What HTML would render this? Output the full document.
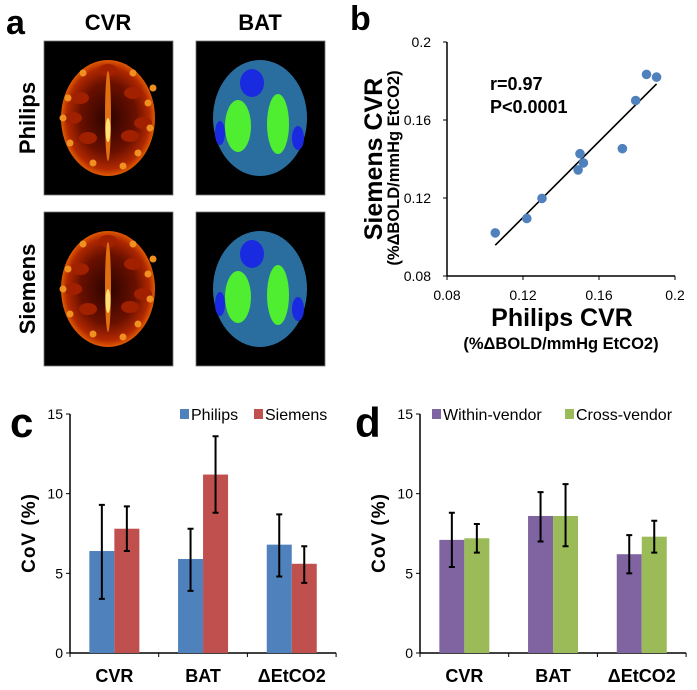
<!DOCTYPE html>
<html><head><meta charset="utf-8"><style>
body{margin:0;background:#fff}
svg{display:block;font-family:"Liberation Sans",Arial,sans-serif}
</style></head><body>
<svg id="fig" width="697" height="690" viewBox="0 0 697 690">
<defs>
<radialGradient id="cvrg" cx="50%" cy="50%" r="50%">
<stop offset="0" stop-color="#2a0300"/><stop offset="0.6" stop-color="#6a1000"/><stop offset="0.88" stop-color="#b02800"/><stop offset="1" stop-color="#e05a00"/>
</radialGradient>
</defs>
<g>
<text x="6" y="34" font-size="34" font-weight="bold">a</text>
<text x="108" y="30" font-size="22" font-weight="bold" text-anchor="middle">CVR</text>
<text x="260" y="30" font-size="22" font-weight="bold" text-anchor="middle">BAT</text>
<text transform="translate(35,118) rotate(-90)" font-size="22" font-weight="bold" text-anchor="middle">Philips</text>
<text transform="translate(35,289) rotate(-90)" font-size="22" font-weight="bold" text-anchor="middle">Siemens</text>
<g id="brains"></g>
</g>
<g id="pb">
<text x="350" y="30" font-size="34" font-weight="bold">b</text>
<text x="490" y="90" font-size="18" font-weight="bold">r=0.97</text>
<text x="490" y="113" font-size="18" font-weight="bold">P&lt;0.0001</text>
<text x="562" y="326" font-size="25" font-weight="bold" text-anchor="middle">Philips CVR</text>
<text x="561" y="349" font-size="16.5" font-weight="bold" text-anchor="middle">(%ΔBOLD/mmHg EtCO2)</text>
<text transform="translate(382,159) rotate(-90)" font-size="25" font-weight="bold" text-anchor="middle">Siemens CVR</text>
<text transform="translate(399,168) rotate(-90)" font-size="16.5" font-weight="bold" text-anchor="middle">(%ΔBOLD/mmHg EtCO2)</text>
</g>
<g id="pc">
<text x="10" y="437" font-size="42" font-weight="bold">c</text>
<text transform="translate(35,533) rotate(-90)" font-size="19" font-weight="bold" text-anchor="middle" letter-spacing="1">CoV (%)</text>
</g>
<g id="pd">
<text x="355" y="437" font-size="42" font-weight="bold">d</text>
<text transform="translate(385,533) rotate(-90)" font-size="19" font-weight="bold" text-anchor="middle" letter-spacing="1">CoV (%)</text>
</g>
</svg>
<script>
const NS="http://www.w3.org/2000/svg";
function mk(p,tag,a){const e=document.createElementNS(NS,tag);for(const k in a)e.setAttribute(k,a[k]);p.appendChild(e);return e;}

const philipsCVR=[0.1054,0.122,0.130,0.150,0.1518,0.149,0.1723,0.1793,0.185,0.1903];
const siemensCVR=[0.1021,0.1095,0.1198,0.1427,0.138,0.1344,0.1453,0.170,0.1834,0.182];
const bTicks=[0.08,0.12,0.16,0.2];
const fitX=[0.1054,0.1903];
const fitY=[0.0958,0.1785];

const catsC=["CVR","BAT","ΔEtCO2"];
const philipsCoV=[6.4,5.9,6.8];
const philipsLo=[3.4,3.9,4.8];
const philipsHi=[9.3,7.8,8.7];
const siemensCoV=[7.8,11.2,5.6];
const siemensLo=[6.4,8.8,4.4];
const siemensHi=[9.2,13.6,6.7];
const withinCoV=[7.1,8.6,6.2];
const withinLo=[5.4,7.0,5.0];
const withinHi=[8.8,10.1,7.4];
const crossCoV=[7.2,8.6,7.3];
const crossLo=[6.3,6.7,6.3];
const crossHi=[8.1,10.6,8.3];
const covTicks=[0,5,10,15];

(function(){
 const g=document.getElementById('pb');
 const sx=v=>447+(v-0.08)/0.12*228, sy=v=>276-(v-0.08)/0.12*234;
 let e=mk(g,'line',{x1:447,y1:42,x2:447,y2:276,stroke:'#000','stroke-width':1.5});
 
 e=mk(g,'line',{x1:447,y1:276,x2:675,y2:276,stroke:'#000','stroke-width':1.5});
 
 bTicks.forEach(t=>{
  mk(g,'line',{x1:443,x2:447,y1:sy(t),y2:sy(t),stroke:'#000'});
  mk(g,'line',{x1:sx(t),x2:sx(t),y1:276,y2:280,stroke:'#000'});
  let l=mk(g,'text',{x:sx(t),y:300,'font-size':14,'text-anchor':'middle'});l.textContent=String(t);
  
  l=mk(g,'text',{x:431,y:sy(t)+5,'font-size':14,'text-anchor':'end'});l.textContent=String(t);
  
 });
 e=mk(g,'line',{x1:sx(fitX[0]),y1:sy(fitY[0]),x2:sx(fitX[1]),y2:sy(fitY[1]),stroke:'#000','stroke-width':1.6});
 
 philipsCVR.forEach((v,i)=>{
  const c=mk(g,'circle',{cx:sx(v),cy:sy(siemensCVR[i]),r:4.8,fill:'#4f81bd'});
  
 });
})();

function bars(id,ax,a,aLo,aHi,b,bLo,bHi,colA,colB,legA,legB,legPos){
 const g=document.getElementById(id);
 const y0=653,sy=v=>y0-v/15*239,cw=88.7;
 let e=mk(g,'line',{x1:ax,y1:414,x2:ax,y2:y0,stroke:'#000','stroke-width':1.5});
 
 e=mk(g,'line',{x1:ax,y1:y0,x2:ax+3*cw,y2:y0,stroke:'#000','stroke-width':1.5});
 
 for(let i=0;i<=3;i++)mk(g,'line',{x1:ax+i*cw,x2:ax+i*cw,y1:y0,y2:y0+4,stroke:'#000'});
 covTicks.forEach(t=>{
  mk(g,'line',{x1:ax-4,x2:ax,y1:sy(t),y2:sy(t),stroke:'#000'});
  const l=mk(g,'text',{x:ax-7,y:sy(t)+5,'font-size':14,'text-anchor':'end'});l.textContent=t;
  
 });
 catsC.forEach((c,i)=>{
  const cx=ax+cw*(i+0.5);
  const l=mk(g,'text',{x:cx,y:682,'font-size':18,'font-weight':'bold','text-anchor':'middle'});l.textContent=c;
  
  [[a,aLo,aHi,colA,cx-25],[b,bLo,bHi,colB,cx]].forEach(([v,lo,hi,col,x])=>{
   const r=mk(g,'rect',{x:x,y:sy(v[i]),width:25,height:y0-sy(v[i]),fill:col});
   
   const m=x+12.5;
   const eb=mk(g,'path',{d:`M${m},${sy(lo[i])}V${sy(hi[i])}M${m-3},${sy(lo[i])}H${m+3}M${m-3},${sy(hi[i])}H${m+3}`,stroke:'#000','stroke-width':2,fill:'none'});
   
  });
 });
 [[legA,colA,legPos[0]],[legB,colB,legPos[1]]].forEach(([t,c,x])=>{
  const s=mk(g,'rect',{x:x,y:409,width:9,height:10,fill:c});
  
  const l=mk(g,'text',{x:x+11,y:420,'font-size':16});l.textContent=t;
  
 });
}
bars('pc',70,philipsCoV,philipsLo,philipsHi,siemensCoV,siemensLo,siemensHi,'#4f81bd','#c0504d','Philips','Siemens',[180,254]);
bars('pd',420,withinCoV,withinLo,withinHi,crossCoV,crossLo,crossHi,'#8064a2','#9bbb59','Within-vendor','Cross-vendor',[432,565]);

(function(){
 const g=document.getElementById('brains');
 const boxes=[[44,41,'cvr'],[196,41,'bat'],[44,212,'cvr'],[196,212,'bat']];
 boxes.forEach(([x,y,t])=>{
  const b=mk(g,'rect',{x:x,y:y,width:129,height:154,fill:'#000',stroke:'#777','stroke-width':0.8});
  
  const cx=x+64,cy=y+77;
  if(t==='cvr'){
   mk(g,'ellipse',{cx,cy,rx:47,ry:58,fill:'url(#cvrg)'});
   [[-28,-20],[25,-25],[-20,20],[22,18],[0,-48],[-35,0],[35,5]].forEach(([dx,dy])=>mk(g,'ellipse',{cx:cx+dx,cy:cy+dy,rx:9,ry:6,fill:'#a02000'}));
   mk(g,'ellipse',{cx,cy:cy-2,rx:3,ry:45,fill:'#e07010'});
   mk(g,'ellipse',{cx,cy:cy+12,rx:2.5,ry:12,fill:'#ffe070'});
   [[-40,-20],[40,-15],[42,10],[-38,25],[30,35],[-25,-45],[25,-45],[-15,45],[15,48],[-45,0],[45,-30]].forEach(([dx,dy])=>mk(g,'circle',{cx:cx+dx,cy:cy+dy,r:3.5,fill:'#f09020'}));
  }else{
   mk(g,'ellipse',{cx,cy,rx:47,ry:58,fill:'#2a6ea0'});
   mk(g,'ellipse',{cx:cx-8,cy:cy-35,rx:12,ry:14,fill:'#1a2ae0'});
   mk(g,'ellipse',{cx:cx-22,cy:cy+8,rx:13,ry:26,fill:'#50ee30'});
   mk(g,'ellipse',{cx:cx+18,cy:cy+6,rx:11,ry:30,fill:'#50ee30'});
   mk(g,'ellipse',{cx:cx+38,cy:cy+20,rx:6,ry:12,fill:'#1a2ae0'});
   mk(g,'ellipse',{cx:cx-40,cy:cy+15,rx:5,ry:12,fill:'#1a2ae0'});
  }
 });
})();
</script>
</body></html>
